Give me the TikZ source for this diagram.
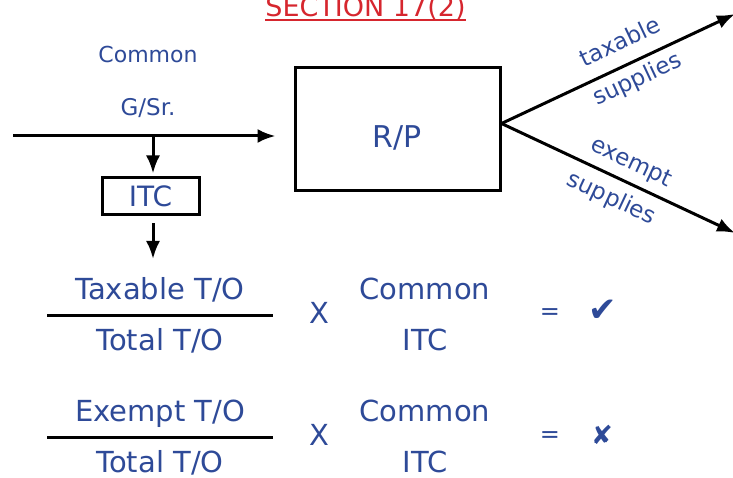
\documentclass[tikz,border=0pt]{standalone}
\usepackage{fontspec}
\setmainfont{DejaVu Sans}
\usetikzlibrary{positioning, calc, arrows.meta}
\definecolor{Ink}{HTML}{2E4A98}
\definecolor{Heading}{HTML}{D6262E}
\tikzset{
    txt/.style={text=Ink, inner sep=0pt, anchor=base, font=\fontsize{29}{34}\selectfont},
    smalltxt/.style={txt, font=\fontsize{22}{26}\selectfont},
    slopetxt/.style={text=Ink, sloped, inner sep=6pt, font=\fontsize{23}{27}\selectfont},
    boxnode/.style={rectangle, draw=black, line width=3pt, text=Ink, inner sep=0pt},
    arrow/.style={-{Latex[length=18pt,width=14pt]}, line width=3pt, color=black},
    bar/.style={line width=3pt, color=black},
}
\begin{document}
\begin{tikzpicture}[x=1pt, y=-1pt]
    \useasboundingbox (0,0) rectangle (733,478);

    % Titolo
    \node[txt, text=Heading, font=\fontsize{27}{32}\selectfont] (sec) at (365.5,17) {SECTION 17(2)};
    \draw[Heading, line width=2pt] ([yshift=-3.5pt]sec.base west) -- ([yshift=-3.5pt]sec.base east);

    % Ingresso beni/servizi comuni
    \node[smalltxt] (common) at (148,63) {Common};
    \node[smalltxt, font=\fontsize{23}{27}\selectfont] (gsr) at (148,116) {G/Sr.};
    \coordinate (src) at (13,136);
    \coordinate (split) at (153,136);
    \coordinate (down) at (153,259);

    % Box R/P e box ITC
    \node[boxnode, minimum width=205pt, minimum height=123pt, text height=36pt, text depth=0pt,
          font=\fontsize{30}{34}\selectfont] (rp) at (397.5,129.5) {R/P};
    \node[boxnode, minimum width=97pt, minimum height=37pt,
          font=\fontsize{28}{32}\selectfont] (itc) at (150.5,196.5) {ITC};

    \draw[arrow, shorten >=18pt] (src) -- (rp.west |- src);
    \draw[arrow, shorten >=3pt] (split) -- (split |- itc.north);
    \draw[arrow, shorten <=7pt] (split |- itc.south) -- (down);

    % Forniture imponibili / esenti
    \coordinate (fork) at ([yshift=6pt]rp.east);
    \coordinate (ts) at (735,14);
    \coordinate (es) at (735,233);
    \draw[arrow] (fork) -- (ts)
        node[slopetxt, pos=0.55, above, inner sep=14pt] (taxw) {taxable}
        node[slopetxt, pos=0.55, below] (supw1) {supplies};
    \draw[arrow] (fork) -- (es)
        node[slopetxt, pos=0.52, above, inner sep=7pt] (exw) {exempt}
        node[slopetxt, pos=0.51, below, inner sep=9pt] (supw2) {supplies};

    % Ripartizione 1: quota imponibile
    \node[txt] (num1) at (160,299) {Taxable T/O};
    \coordinate (bar1l) at (47,315);
    \coordinate (bar1r) at (273,315);
    \draw[bar] (bar1l) -- (bar1r);
    \node[txt] (den1) at (160,350) {Total T/O};
    \node[txt] (mul1) at (319,323) {X};
    \node[txt] (cmn1) at (425,299) {Common};
    \node[txt] (itc1) at (425,350) {ITC};
    \node[text=Ink, font=\fontsize{24}{28}\selectfont, inner sep=0pt] (eq1) at (550,314) {=};
    \node[text=Ink, font=\fontsize{34}{38}\selectfont, inner sep=0pt] (ok) at (603,311) {✔};

    % Ripartizione 2: quota esente
    \node[txt] (num2) at (160,421) {Exempt T/O};
    \coordinate (bar2l) at (47,437);
    \coordinate (bar2r) at (273,437);
    \draw[bar] (bar2l) -- (bar2r);
    \node[txt] (den2) at (160,472) {Total T/O};
    \node[txt] (mul2) at (319,445) {X};
    \node[txt] (cmn2) at (425,421) {Common};
    \node[txt] (itc2) at (425,472) {ITC};
    \node[text=Ink, font=\fontsize{24}{28}\selectfont, inner sep=0pt] (eq2) at (550,437) {=};
    \node[text=Ink, font=\fontsize{26}{30}\selectfont, inner sep=0pt] (no) at (602,435) {✘};
\end{tikzpicture}
\end{document}
